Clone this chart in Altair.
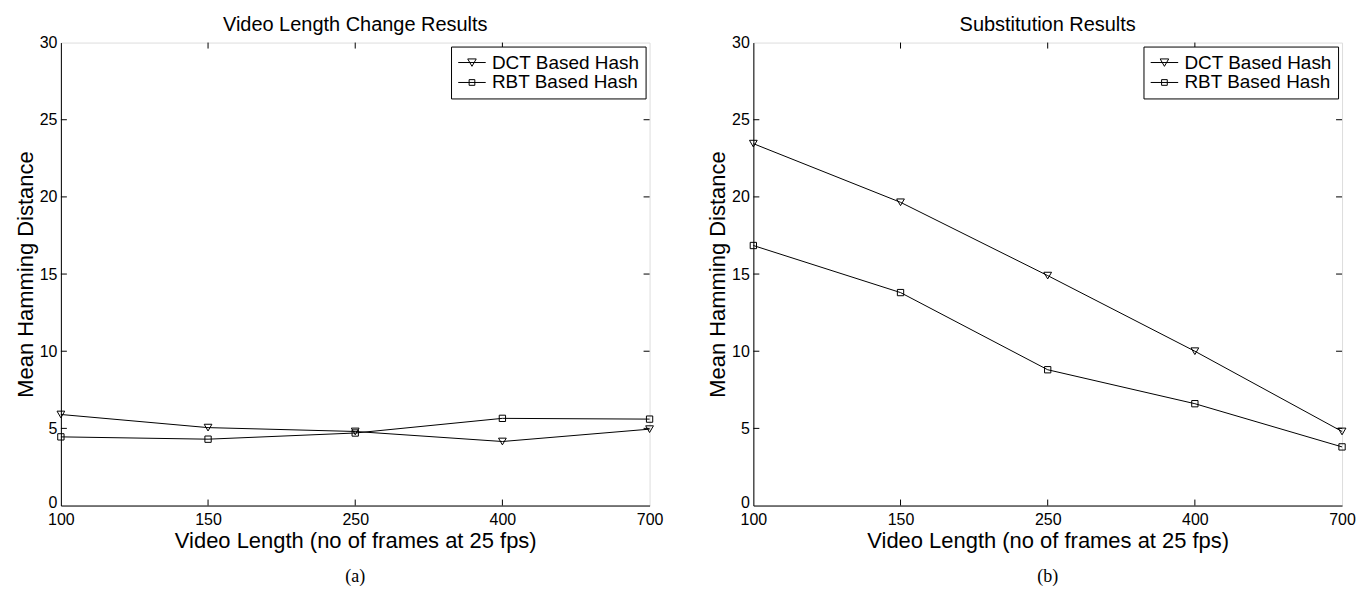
import altair as alt
import pandas as pd

# ---- data ----
lengths = ["100", "150", "250", "400", "700"]
series_names = ["DCT Based Hash", "RBT Based Hash"]

left_title = "Video Length Change Results"
left_dct = [5.9, 5.05, 4.8, 4.15, 4.95]
left_rbt = [4.45, 4.3, 4.7, 5.65, 5.6]
left_caption = ["(a)"]

right_title = "Substitution Results"
right_dct = [23.45, 19.65, 14.9, 10.0, 4.8]
right_rbt = [16.85, 13.8, 8.8, 6.6, 3.8]
right_caption = ["(b)"]

y_ticks = [0, 5, 10, 15, 20, 25, 30]
inner_y_ticks = [5, 10, 15, 20, 25]
inner_x_ticks = ["150", "250", "400"]

x_title = "Video Length (no of frames at 25 fps)"
y_title = "Mean Hamming Distance"

W, H = 590, 464
FONT = "Liberation Sans"

marker_shapes = ["triangle-down", "square"]
marker_sizes = [60, 40]
legend_shapes = [
    "M-1.45,0L1.45,0M-0.45,-0.38L0.45,-0.38L0,0.4Z",
    "M-1.45,0L1.45,0M-0.3,-0.3L0.3,-0.3L0.3,0.3L-0.3,0.3Z",
]


def panel(title, dct, rbt, caption):
    df = pd.DataFrame(
        {
            "len": lengths * 2,
            "val": dct + rbt,
            "series": [series_names[0]] * len(lengths) + [series_names[1]] * len(lengths),
        }
    )
    x = alt.X(
        "len:O",
        sort=lengths,
        scale=alt.Scale(type="point", padding=0),
        axis=alt.Axis(
            title=x_title, labelAngle=0, labelFontSize=16, labelFont=FONT,
            labelColor="black", labelPadding=6, ticks=False, tickSize=0,
            titleFont=FONT, titleFontSize=22, titleFontWeight="normal",
            titleColor="black", titlePadding=3, domainColor="black", grid=False,
        ),
    )
    y = alt.Y(
        "val:Q",
        scale=alt.Scale(domain=[0, 30], nice=False),
        axis=alt.Axis(
            title=y_title, values=y_ticks, labelFontSize=16, labelFont=FONT,
            labelColor="black", labelPadding=4, ticks=False, tickSize=0,
            labelOffset=alt.condition("datum.value == 0", alt.value(-3), alt.value(0)),
            titleFont=FONT, titleFontSize=22, titleFontWeight="normal",
            titleColor="black", titlePadding=2, domainColor="black", grid=False,
        ),
    )
    base = alt.Chart(df)
    lines = base.mark_line(color="black", strokeWidth=1).encode(x=x, y=y, detail="series:N")
    points = base.mark_point(filled=False, color="black", strokeWidth=1, opacity=1).encode(
        x=x,
        y=y,
        shape=alt.Shape("series:N", scale=alt.Scale(domain=series_names, range=marker_shapes), legend=None),
        size=alt.Size("series:N", scale=alt.Scale(domain=series_names, range=marker_sizes), legend=None),
    )
    legend_layer = base.transform_filter("false").mark_point(
        filled=False, color="black", strokeWidth=1, opacity=1
    ).encode(
        x=x,
        y=y,
        shape=alt.Shape(
            "series:N",
            scale=alt.Scale(domain=series_names, range=legend_shapes),
            legend=alt.Legend(
                title=None, orient="top-right", offset=4, strokeColor="black",
                fillColor="white", padding=6, labelFontSize=19, labelFont=FONT,
                labelColor="black", symbolSize=361, symbolStrokeWidth=1,
                symbolStrokeColor="black", symbolOffset=5, rowPadding=0, labelOffset=10,
            ),
        ),
    )
    ydf = pd.DataFrame({"v": inner_y_ticks})
    xdf = pd.DataFrame({"len": inner_x_ticks})
    ytl = alt.Chart(ydf).mark_rule(color="black", strokeWidth=1).encode(
        y="v:Q", x=alt.value(0), x2=alt.value(6))
    ytr = alt.Chart(ydf).mark_rule(color="black", strokeWidth=1).encode(
        y="v:Q", x=alt.value(W - 6), x2=alt.value(W))
    xtb = alt.Chart(xdf).mark_rule(color="black", strokeWidth=1).encode(
        x=alt.X("len:O", sort=lengths), y=alt.value(H - 6), y2=alt.value(H))
    xtt = alt.Chart(xdf).mark_rule(color="black", strokeWidth=1).encode(
        x=alt.X("len:O", sort=lengths), y=alt.value(0), y2=alt.value(6))
    cap = alt.Chart(pd.DataFrame({"cap": caption})).mark_text(
        font="Liberation Serif", fontSize=18, color="black", baseline="middle"
    ).encode(text="cap:N", x=alt.value(W / 2), y=alt.value(H + 72))

    return (
        alt.layer(lines, points, legend_layer, ytl, ytr, xtb, xtt, cap)
        .resolve_scale(shape="independent")
        .properties(
            width=W, height=H,
            title=alt.TitleParams(title, fontSize=20, font=FONT, fontWeight="normal",
                                  color="black", offset=0),
        )
    )


chart = alt.hconcat(
    panel(left_title, left_dct, left_rbt, left_caption),
    panel(right_title, right_dct, right_rbt, right_caption),
    spacing=42,
).configure_view(stroke="black", strokeWidth=1).configure(background="white")

chart.save("out.html", embed_options={"renderer": "svg", "actions": False})
